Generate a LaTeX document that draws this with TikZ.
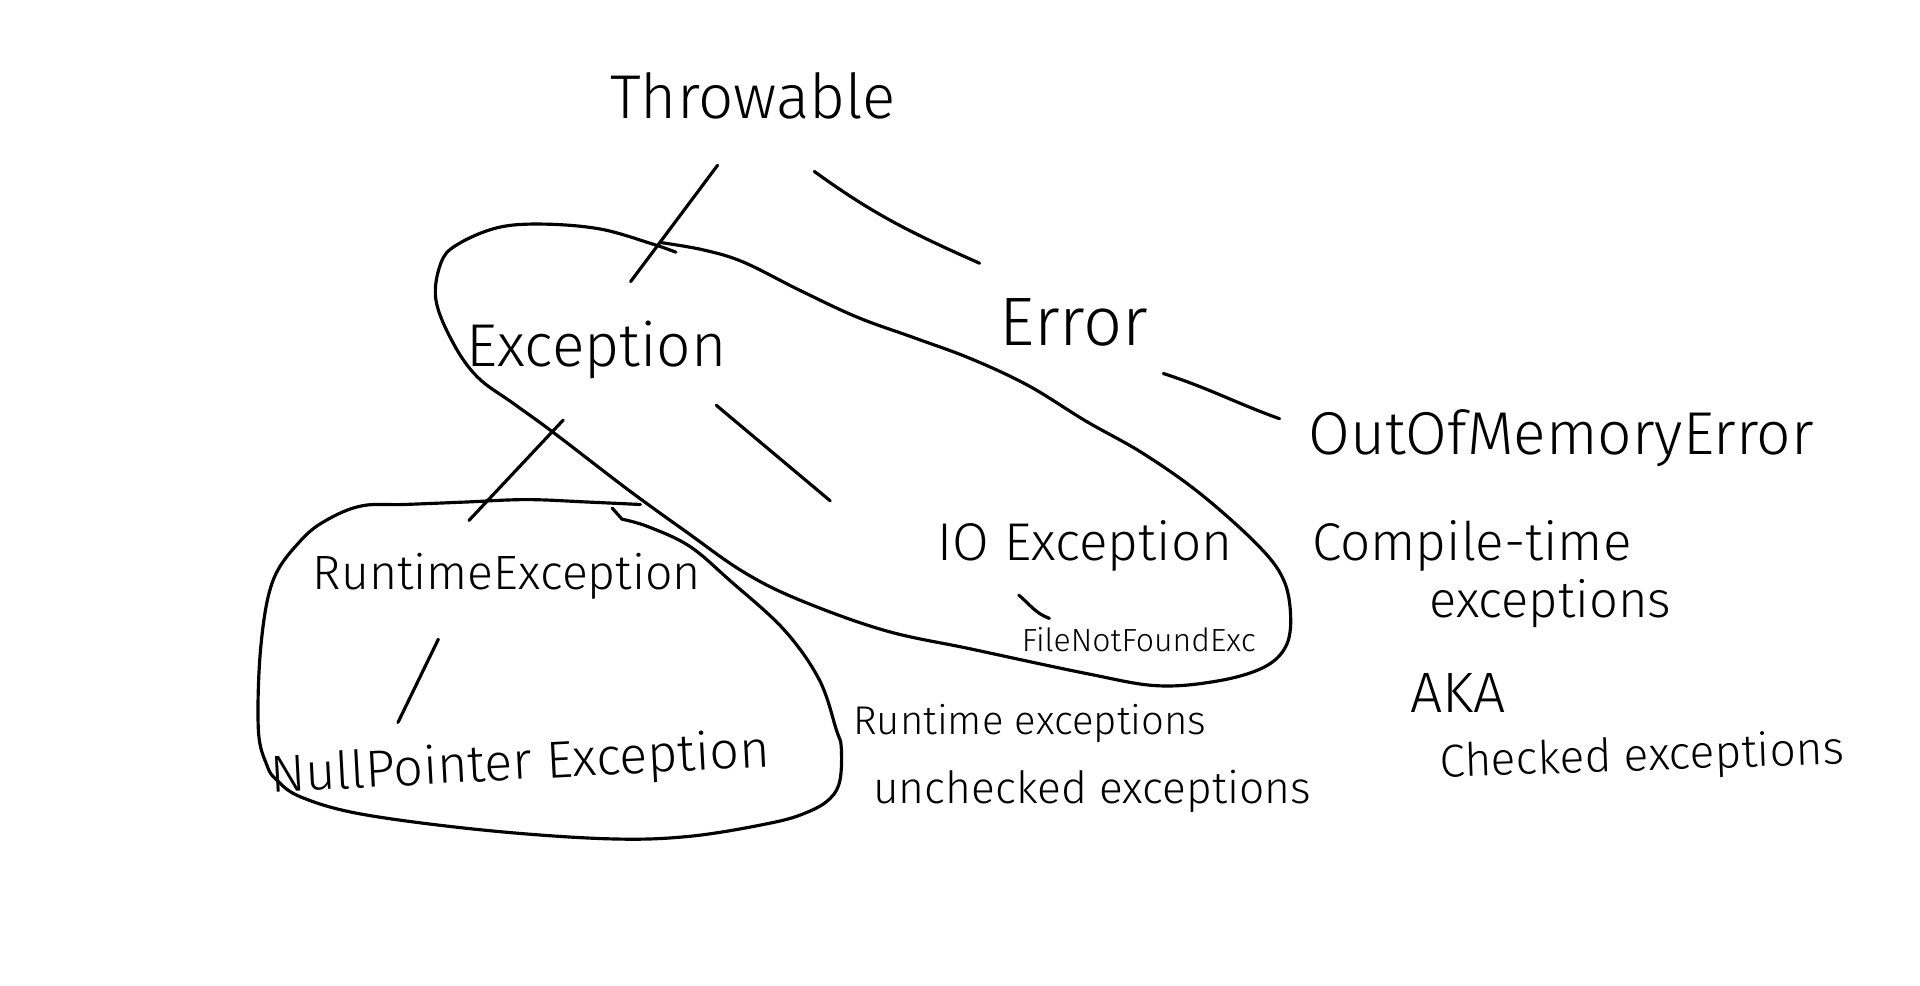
\documentclass[tikz,border=0pt]{standalone}
\usepackage{fontspec}
\IfFontExistsTF{Fira Sans Light}{\setmainfont{Fira Sans Light}}{\setmainfont{Liberation Sans}}
\usetikzlibrary{positioning}
\tikzset{
  txt/.style={inner sep=0pt,font=\fontsize{#1}{#1}\selectfont},
  note/.style={inner sep=0pt,font=\fontsize{#1}{#1}\selectfont},
  branch/.style={line width=0.9pt,line cap=round,line join=round},
  blob/.style={line width=0.9pt,line cap=round,line join=round},
}

\begin{document}
\begin{tikzpicture}[x=0.012245cm,y=0.012245cm]
  \useasboundingbox (0,0) rectangle (1568,805);
  % class hierarchy
  \node[txt=17.6] (throwable) at (615,727) {Throwable};
  \node[txt=17.2] (exception) at (487,519) {Exception};
  \node[txt=19.5] (error)     at (877,542) {Error};
  \node[txt=17.2] (oom)       at (1275,447) {OutOfMemoryError};
  \node[txt=13.7] (runtime)   at (414,334) {RuntimeException};
  \node[txt=15.1] (ioexc)     at (886,359) {IO Exception};
  \node[txt=9.1]  (fnf)       at (930,283) {FileNotFoundExc};
  \node[txt=14.8,rotate=3] (npe) at (425,180) {NullPointer Exception};
  % side notes
  \node[note=11.4] (rtnote)   at (841,214) {Runtime exceptions};
  \node[note=12.6] (unchk)    at (892,159) {unchecked exceptions};
  \node[note=15.1] (ctime)    at (1202,359) {Compile-time};
  \node[note=14.4] (ctexc)    at (1266,312) {exceptions};
  \node[note=16.2] (aka)      at (1191,239) {AKA};
  \node[note=13.1,rotate=2] (chk) at (1341,186) {Checked exceptions};

  % branches
  \draw[branch] ([shift={(-29,-57)}]throwable.center) -- ([shift={(28,56)}]exception.center);
  \draw[branch] ([shift={(50,-62)}]throwable.center) to[out=-36,in=156] ([shift={(-77,48)}]error.center);
  \draw[branch] ([shift={(73,-42)}]error.center) to[out=-18,in=160] ([shift={(-230,16)}]oom.center);
  \draw[branch] ([shift={(-27,-57)}]exception.center) -- ([shift={(-31,46)}]runtime.center);
  \draw[branch] ([shift={(98,-45)}]exception.center) -- ([shift={(-208,37)}]ioexc.center);
  \draw[branch] ([shift={(-54,-40)}]ioexc.center) to[out=-40,in=160] ([shift={(-73,17)}]fnf.center);
  \draw[branch] ([shift={(-56,-51)}]runtime.center) -- ([shift={(-100,35)}]npe.center);

  % checked group
  \draw[blob] plot[smooth,tension=0.6] coordinates {
    (539,607) (574,601) (607,591) (653,568) (700,546) (747,529) (793,512)
    (840,490) (887,461) (933,435) (980,402) (1027,360) (1048,332) (1054,302)
    (1050,277) (1032,260) (995,249) (945,245) (887,255) (793,275) (723,290)
    (653,315) (607,338) (560,371) (513,405) (453,451) (420,475) (390,497)
    (370,525) (356,560) (360,590) (373,605) (406,619) (443,622) (490,618)
    (532,606) (552,599)};
  % unchecked group
  \draw[blob] plot[smooth,tension=0.6] coordinates {
    (523,393) (480,395) (430,397) (380,395) (330,393) (296,392) (268,381)
    (246,364) (223,331) (213,277) (211,209) (218,180) (226,168) (246,154)
    (296,140) (396,127) (496,120) (563,122) (630,133) (660,142) (678,153)
    (686,168) (687,195) (683,209) (669,250) (640,291) (596,331) (563,359)
    (529,375) (508,381)} -- (500,390);
\end{tikzpicture}
\end{document}
